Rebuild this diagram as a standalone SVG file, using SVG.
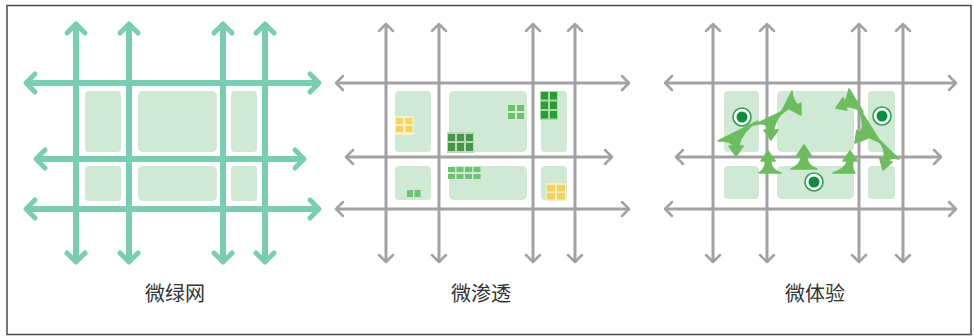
<svg xmlns="http://www.w3.org/2000/svg" width="974" height="336" viewBox="0 0 974 336">
  <style>
    .frame { fill: #ffffff; stroke: #4a4a4a; stroke-width: 1.5; }
    .block { fill: #cfe9d4; }
    .teal { fill: none; stroke: #7bcdb2; stroke-width: 6; }
    .grey { fill: none; stroke: #a2a2a2; stroke-width: 3; }
    .teal-v { marker-start: url(#tealHead); marker-end: url(#tealHead); }
    .grey-v { marker-start: url(#greyHead); marker-end: url(#greyHead); }
    .label { font-family: "Noto Sans CJK SC", "Noto Sans", sans-serif; font-size: 20px; fill: #333333; text-anchor: middle; }
    .swoosh { fill: #6dbd60; stroke: #6dbd60; stroke-width: 1.6; stroke-linejoin: round; }
    .spot-ring { fill: #ffffff; stroke: #2f9e52; stroke-width: 1.6; }
    .spot-dot { fill: #0f8c3c; }
    .yl { fill: #f2d35e; } .yl-bg { fill: #f9efc6; }
    .gl { fill: #6fc26f; } .gl-bg { fill: #d3ebcd; }
    .gd { fill: #47954a; } .gd-bg { fill: #b9dab7; }
    .gb { fill: #2c9c35; } .gb-bg { fill: #acdaa8; }
  </style>
  <defs>
    <marker id="tealHead" markerUnits="userSpaceOnUse" orient="auto-start-reverse" overflow="visible" refX="0" refY="0" markerWidth="1" markerHeight="1">
      <path d="M-9,-9 L0,0 L-9,9" fill="none" stroke="#7bcdb2" stroke-width="5" stroke-linecap="round" stroke-linejoin="round"/>
    </marker>
    <marker id="greyHead" markerUnits="userSpaceOnUse" orient="auto-start-reverse" overflow="visible" refX="0" refY="0" markerWidth="1" markerHeight="1">
      <path d="M-7,-7 L0,0 L-7,7" fill="none" stroke="#a2a2a2" stroke-width="2.5" stroke-linecap="round" stroke-linejoin="round"/>
    </marker>
  </defs>

  <rect class="frame" x="7" y="5.5" width="964" height="329"/>

  <!-- Panel 1: green network -->
  <g id="panel-green-net">
    <g id="blocks-1">
      <rect class="block" x="85" y="91" width="36" height="61" rx="4"/>
      <rect class="block" x="138" y="91" width="79" height="61" rx="5"/>
      <rect class="block" x="231" y="91" width="26" height="61" rx="4"/>
      <rect class="block" x="85" y="166" width="36" height="35" rx="4"/>
      <rect class="block" x="138" y="166" width="79" height="35" rx="5"/>
      <rect class="block" x="231" y="166" width="26" height="35" rx="4"/>
    </g>
    <g id="roads-1" class="connectors">
      <path class="teal teal-v" d="M76,24 V262"/>
      <path class="teal teal-v" d="M129,24 V262"/>
      <path class="teal teal-v" d="M223,24 V262"/>
      <path class="teal teal-v" d="M265,24 V262"/>
      <path class="teal teal-v" d="M26,83 H319"/>
      <path class="teal teal-v" d="M36,159 H304"/>
      <path class="teal teal-v" d="M26,209 H319"/>
    </g>
    <text class="label" x="175" y="301">微绿网</text>
  </g>

  <!-- Panel 2: micro infiltration -->
  <g id="panel-infiltration">
    <g id="blocks-2">
      <rect class="block" x="395" y="91" width="36" height="61" rx="4"/>
      <rect class="block" x="449" y="91" width="78" height="61" rx="5"/>
      <rect class="block" x="541" y="91" width="26" height="61" rx="4"/>
      <rect class="block" x="395" y="166" width="36" height="34" rx="4"/>
      <rect class="block" x="449" y="166" width="78" height="34" rx="5"/>
      <rect class="block" x="541" y="166" width="26" height="34" rx="4"/>
    </g>
    <g id="roads-2" class="connectors">
      <path class="grey grey-v" d="M386,24 V262"/>
      <path class="grey grey-v" d="M439,24 V262"/>
      <path class="grey grey-v" d="M533,24 V262"/>
      <path class="grey grey-v" d="M575,24 V262"/>
      <path class="grey grey-v" d="M336,83 H629"/>
      <path class="grey grey-v" d="M346,157 H612"/>
      <path class="grey grey-v" d="M336,209 H629"/>
    </g>
    <!-- small plots -->
    <g id="plots-2">
      <rect class="yl-bg" x="395" y="116" width="19" height="19"/>
      <rect class="yl" x="396" y="118" width="7" height="6"/>
      <rect class="yl" x="405.5" y="118" width="7" height="6"/>
      <rect class="yl" x="396" y="126" width="7" height="6"/>
      <rect class="yl" x="405.5" y="126" width="7" height="6"/>

      <rect class="gl-bg" x="507" y="103" width="18" height="18"/>
      <rect class="gl" x="508" y="105" width="7" height="6"/>
      <rect class="gl" x="517" y="105" width="7" height="6"/>
      <rect class="gl" x="508" y="113" width="7" height="6"/>
      <rect class="gl" x="517" y="113" width="7" height="6"/>

      <rect class="gd-bg" x="447" y="132" width="27" height="21"/>
      <rect class="gd" x="448" y="134" width="7" height="7"/>
      <rect class="gd" x="457" y="134" width="7" height="7"/>
      <rect class="gd" x="466" y="134" width="7" height="7"/>
      <rect class="gd" x="448" y="143" width="7" height="8"/>
      <rect class="gd" x="457" y="143" width="7" height="8"/>
      <rect class="gd" x="466" y="143" width="7" height="8"/>

      <rect class="gb-bg" x="540" y="91" width="18" height="29"/>
      <rect class="gb" x="541" y="92" width="7" height="7.5"/>
      <rect class="gb" x="550" y="92" width="7" height="7.5"/>
      <rect class="gb" x="541" y="101.5" width="7" height="7.5"/>
      <rect class="gb" x="550" y="101.5" width="7" height="7.5"/>
      <rect class="gb" x="541" y="111" width="7" height="7.5"/>
      <rect class="gb" x="550" y="111" width="7" height="7.5"/>

      <rect class="gl" x="448" y="167" width="7" height="5"/>
      <rect class="gl" x="456.5" y="167" width="7" height="5"/>
      <rect class="gl" x="465" y="167" width="7" height="5"/>
      <rect class="gl" x="473.5" y="167" width="7" height="5"/>
      <rect class="gl" x="448" y="174" width="7" height="5"/>
      <rect class="gl" x="456.5" y="174" width="7" height="5"/>
      <rect class="gl" x="465" y="174" width="7" height="5"/>
      <rect class="gl" x="473.5" y="174" width="7" height="5"/>

      <rect class="gl-bg" x="407" y="187" width="14" height="1"/>
      <rect class="gl" x="407" y="190" width="6" height="7"/>
      <rect class="gl" x="414.5" y="190" width="6" height="7"/>

      <rect class="yl-bg" x="546" y="183" width="20" height="18"/>
      <rect class="yl" x="547" y="185" width="8" height="6.5"/>
      <rect class="yl" x="557" y="185" width="8" height="6.5"/>
      <rect class="yl" x="547" y="193" width="8" height="6.5"/>
      <rect class="yl" x="557" y="193" width="8" height="6.5"/>
    </g>
    <text class="label" x="481" y="301">微渗透</text>
  </g>

  <!-- Panel 3: micro experience -->
  <g id="panel-experience">
    <g id="blocks-3">
      <rect class="block" x="724" y="91" width="35" height="61" rx="4"/>
      <rect class="block" x="777" y="91" width="77" height="61" rx="5"/>
      <rect class="block" x="868" y="91" width="27" height="61" rx="4"/>
      <rect class="block" x="724" y="166" width="35" height="33" rx="4"/>
      <rect class="block" x="777" y="166" width="77" height="33" rx="5"/>
      <rect class="block" x="868" y="166" width="27" height="33" rx="4"/>
    </g>
    <g id="roads-3" class="connectors">
      <path class="grey grey-v" d="M713,24 V262"/>
      <path class="grey grey-v" d="M767,24 V262"/>
      <path class="grey grey-v" d="M859,24 V262"/>
      <path class="grey grey-v" d="M903,24 V262"/>
      <path class="grey grey-v" d="M665,83 H956"/>
      <path class="grey grey-v" d="M676,157 H941"/>
      <path class="grey grey-v" d="M665,209 H956"/>
    </g>
    <!-- flow swooshes: fan base tapering into a stem and arrowhead -->
    <g id="flows-3">
      <path class="swoosh" d="M718,141 Q731,140 733.5,146 L729,146 L736,156 L743,146 L738.5,146 Q742,131 758,121 Z"/>
      <path class="swoosh" d="M754,125 Q767,121 768.5,130 L764,130 L771,140 L778,130 L773.5,130 Q776,117 785,110 Z"/>
      <path class="swoosh" d="M780,115 Q789,107 792.8,107.1 L789.2,108.9 L801,115 L800.8,103.1 L797.2,104.9 Q792,99 792,91 Z"/>
      <path class="swoosh" d="M849,89 Q847,100 844.3,101.6 L843.1,97.8 L836,108 L846.9,110.2 L845.7,106.4 Q853,106 863,112 Z"/>
      <path class="swoosh" d="M859,108 Q865,128 860,133 L856.8,130.6 L855,143 L867.2,138.4 L864,136 Q869,137 881,143 Z"/>
      <path class="swoosh" d="M875,136 Q887,149 883.6,159.2 L879.8,158 L883,170 L892.2,162 L888.4,160.8 Q890,157 899,159 Z"/>
      <path class="swoosh" d="M759,173 Q766,169 765.5,161 L761,161 L768,151 L775,161 L770.5,161 Q771,170 781,173 Z"/>
      <path class="swoosh" d="M791,169 Q801,165 801.5,156 L796.5,156 L804,145 L811.5,156 L806.5,156 Q807,166 817,169 Z"/>
      <path class="swoosh" d="M833,173 Q846,169 847.5,161 L843,161 L850,151 L857,161 L852.5,161 Q852,170 855,173 Z"/>
    </g>
    <g id="spots-3">
      <circle class="spot-ring" cx="742" cy="117" r="9"/>
      <circle class="spot-dot" cx="742" cy="117" r="5.5"/>
      <circle class="spot-ring" cx="882" cy="116" r="9"/>
      <circle class="spot-dot" cx="882" cy="116" r="5.5"/>
      <circle class="spot-ring" cx="814" cy="182" r="9"/>
      <circle class="spot-dot" cx="814" cy="182" r="5.5"/>
    </g>
    <text class="label" x="815" y="301">微体验</text>
  </g>
</svg>
